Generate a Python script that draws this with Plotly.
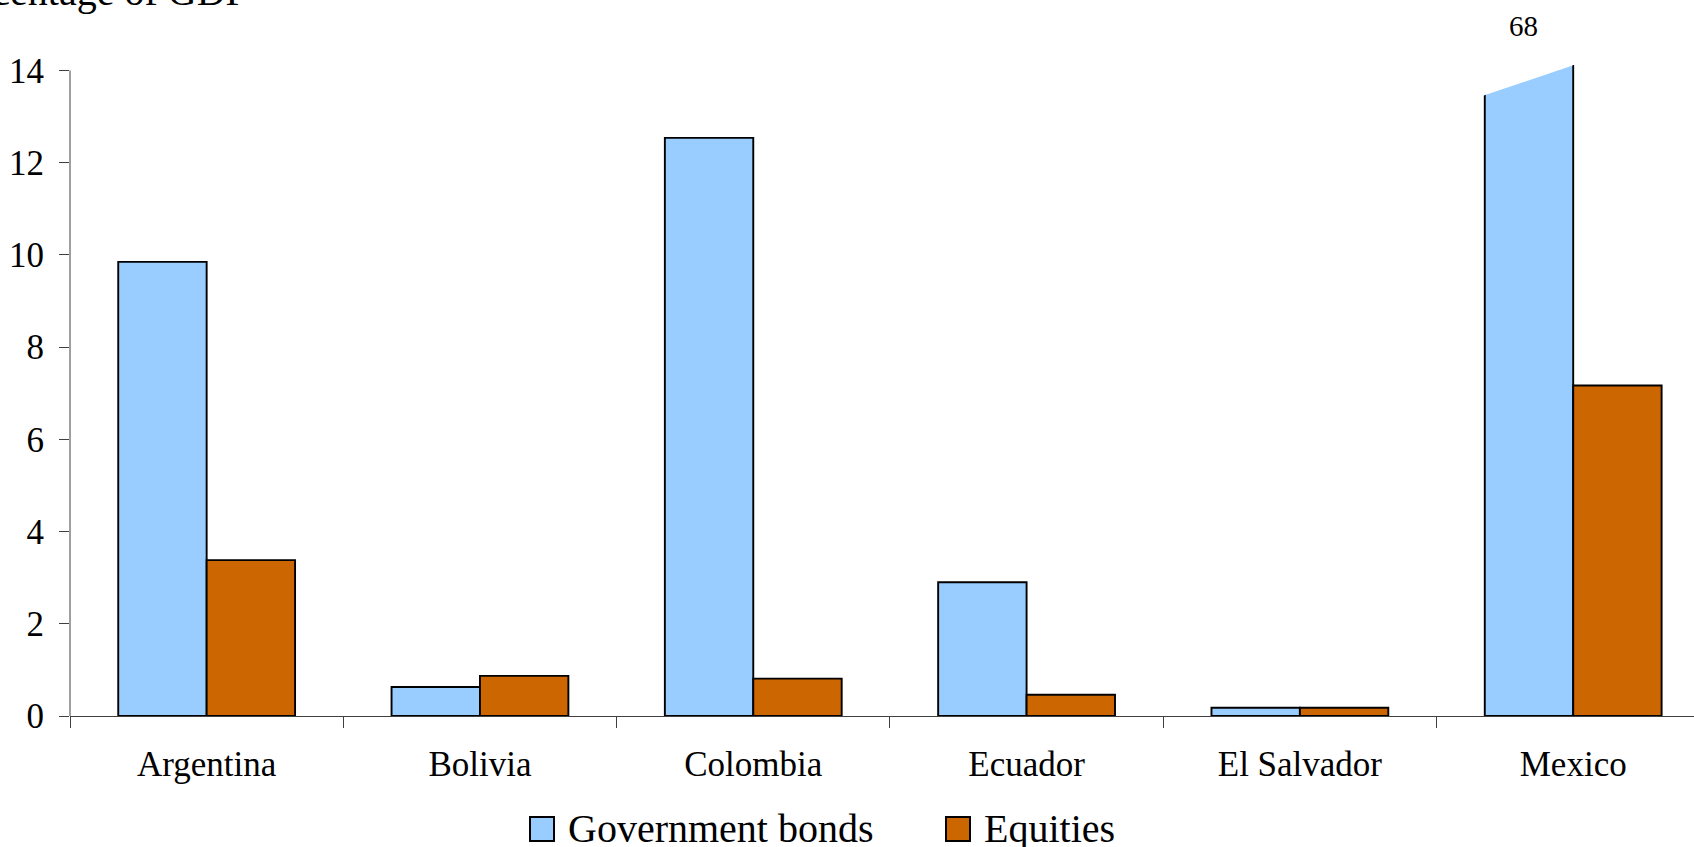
import plotly.graph_objects as go

# ---- data ----
countries = ["Argentina", "Bolivia", "Colombia", "Ecuador", "El Salvador", "Mexico"]
gov_bonds = [9.85, 0.63, 12.54, 2.90, 0.18, 68]
equities = [3.38, 0.87, 0.81, 0.46, 0.18, 7.17]
series_names = ["Government bonds", "Equities"]
y_ticks = [0, 2, 4, 6, 8, 10, 12, 14]
title_text = "Percentage of GDP"

# ---- layout constants ----
W, H = 1694, 847
L, R, T, B = 70, 0, 65, 131
PW, PH = W - L - R, H - T - B
BLUE, ORANGE = "#99CCFF", "#CC6600"
FONT = "Liberation Serif, Times New Roman, serif"
BARGAP = 0.353
bar_w = (1 - BARGAP) / 2
Y_TOP = 14.12
X_RANGE = [-0.5, 5.442]
BREAK_LOW, BREAK_HIGH = 13.44, 14.11   # slanted cut on the out-of-scale bar


def px_x(p):
    return (p - L) / PW


def px_y(p):
    return (H - B - p) / PH


fig = go.Figure()
fig.add_trace(go.Bar(x=countries, y=gov_bonds, name=series_names[0],
                     marker=dict(color=BLUE, line=dict(color="black", width=1.9))))
fig.add_trace(go.Bar(x=countries, y=equities, name=series_names[1],
                     marker=dict(color=ORANGE, line=dict(color="black", width=1.9))))

shapes = []
annotations = []

# axis-break for bars exceeding the scale
for i, v in enumerate(gov_bonds):
    if v > Y_TOP:
        xl = i - bar_w
        xr = i
        shapes.append(dict(type="path", xref="x", yref="y",
                           path=f"M{xl-0.012},{BREAK_LOW} L{xr-0.002},{BREAK_HIGH} "
                                f"L{xr-0.002},{Y_TOP+1} L{xl-0.012},{Y_TOP+1} Z",
                           fillcolor="white", line=dict(width=0), layer="above"))
        annotations.append(dict(x=i - bar_w / 2 - 0.02, xref="x", y=px_y(26), yref="paper",
                                text=f"{v:g}", showarrow=False, yanchor="middle",
                                font=dict(family=FONT, size=29, color="black")))

# y axis line (stops at top tick)
shapes.append(dict(type="line", xref="paper", yref="y", x0=0, x1=0, y0=0, y1=max(y_ticks),
                   line=dict(color="#404040", width=1)))

# custom legend
legend_items = [(series_names[0], BLUE, 530), (series_names[1], ORANGE, 946)]
for name, col, x0 in legend_items:
    shapes.append(dict(type="rect", xref="paper", yref="paper",
                       x0=px_x(x0), x1=px_x(x0 + 24), y0=px_y(841), y1=px_y(817),
                       fillcolor=col, line=dict(color="black", width=2)))
    annotations.append(dict(x=px_x(x0 + 36), y=px_y(828), xref="paper", yref="paper",
                            text=name, showarrow=False, xanchor="left", yanchor="middle",
                            font=dict(family=FONT, size=40, color="black")))

# title (partly out of view, as in the original)
annotations.append(dict(x=px_x(250), y=px_y(7), xref="paper", yref="paper",
                        text=title_text, showarrow=False, xanchor="right", yanchor="bottom",
                        yshift=-9, font=dict(family=FONT, size=40, color="black")))

fig.update_layout(
    width=W, height=H, autosize=False,
    margin=dict(l=L, r=R, t=T, b=B, pad=0),
    plot_bgcolor="white", paper_bgcolor="white",
    barmode="group", bargap=BARGAP, bargroupgap=0,
    showlegend=False,
    font=dict(family=FONT, color="black"),
    shapes=shapes, annotations=annotations,
    xaxis=dict(type="category", range=X_RANGE, tickson="boundaries",
               ticks="outside", ticklen=11, tickcolor="#404040", tickwidth=1,
               showline=True, linecolor="#404040", linewidth=1, showgrid=False,
               tickfont=dict(family=FONT, size=35, color="black"),
               ticklabelstandoff=17),
    yaxis=dict(range=[0, Y_TOP], tickvals=y_ticks, ticks="outside", ticklen=10,
               tickcolor="#404040", tickwidth=1, showline=False, showgrid=False,
               zeroline=False,
               tickfont=dict(family=FONT, size=35, color="black"),
               ticklabelstandoff=8),
)

fig.write_html("out.html")
